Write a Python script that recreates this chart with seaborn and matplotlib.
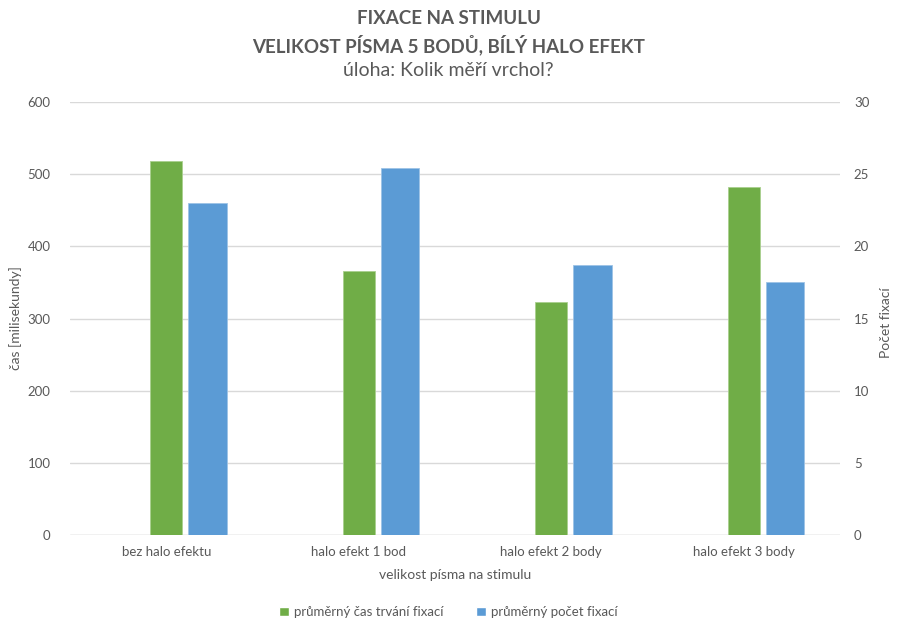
import matplotlib
matplotlib.use("Agg")
import matplotlib.pyplot as plt
import seaborn as sns
import pandas as pd
from matplotlib.patches import Patch

categories = ["bez halo efektu", "halo efekt 1 bod", "halo efekt 2 body", "halo efekt 3 body"]
mean_duration_ms = [518, 366, 323, 482]
mean_fixation_count = [23.0, 25.45, 18.7, 17.5]
left_ticks = [0, 100, 200, 300, 400, 500, 600]
right_ticks = [0, 5, 10, 15, 20, 25, 30]

GREEN = "#70AD47"
BLUE = "#5B9BD5"
TEXT = "#595959"
GRID = "#D9D9D9"

sns.set_theme(style="white")
plt.rcParams["font.family"] = ["Lato", "DejaVu Sans"]

df = pd.DataFrame({"kategorie": categories,
                   "cas": mean_duration_ms,
                   "pocet": mean_fixation_count})

fig = plt.figure(figsize=(8.97, 6.30), dpi=100)
ax = fig.add_axes([70 / 897, 1 - 535 / 630, 770 / 897, 433 / 630])
ax2 = ax.twinx()

sns.barplot(data=df, x="kategorie", y="cas", ax=ax, color=GREEN,
            saturation=1, width=0.166, edgecolor="#A9D08E", linewidth=0.6)
sns.barplot(data=df, x="kategorie", y="pocet", ax=ax2, color=BLUE,
            saturation=1, width=0.2, edgecolor="#9DC3E6", linewidth=0.6)

# secondary series sits just to the right of the primary one
for p in ax2.patches:
    p.set_x(p.get_x() + 0.214)

for a in (ax, ax2):
    a.set_xlim(-0.5, 3.5)
    for s in a.spines.values():
        s.set_visible(False)

ax.set_ylim(0, 600)
ax2.set_ylim(0, 30)
ax.set_yticks(left_ticks)
ax2.set_yticks(right_ticks)
ax.yaxis.grid(True, color=GRID, linewidth=1)
ax.set_axisbelow(True)
ax.axhline(0, color=GRID, linewidth=1, zorder=0.5)

ax.tick_params(axis="y", length=0, pad=14, labelsize=9.5, labelcolor=TEXT)
ax2.tick_params(axis="y", length=0, pad=10, labelsize=9.5, labelcolor=TEXT)
ax.tick_params(axis="x", length=0, pad=8, labelsize=9.5, labelcolor=TEXT)

ax.set_xlabel("velikost písma na stimulu", fontsize=10, color=TEXT, labelpad=8)
ax.set_ylabel("čas [milisekundy]", fontsize=10, color=TEXT)
ax2.set_ylabel("Počet fixací", fontsize=10, color=TEXT, rotation=90)
ax.yaxis.set_label_coords(-0.062, 0.5)
ax2.yaxis.set_label_coords(1.052, 0.49)

fig.text(0.5, 1 - 18 / 630, "FIXACE NA STIMULU", ha="center", va="center",
         fontsize=13.5, fontweight="bold", color=TEXT)
fig.text(0.5, 1 - 45 / 630, "VELIKOST PÍSMA 5 BODŮ, BÍLÝ HALO EFEKT", ha="center",
         va="center", fontsize=13.5, fontweight="bold", color=TEXT)
fig.text(0.5, 1 - 71 / 630, "úloha: Kolik měří vrchol?", ha="center", va="center",
         fontsize=14, color=TEXT)

handles = [Patch(facecolor=GREEN, label="průměrný čas trvání fixací"),
           Patch(facecolor=BLUE, label="průměrný počet fixací")]
fig.legend(handles=handles, loc="center", bbox_to_anchor=(0.5, 1 - 612 / 630),
           ncol=2, frameon=False, fontsize=9.5, labelcolor=TEXT,
           handlelength=0.7, handleheight=0.7, handletextpad=0.4, columnspacing=2.5)

fig.savefig("out.png", dpi=100)
